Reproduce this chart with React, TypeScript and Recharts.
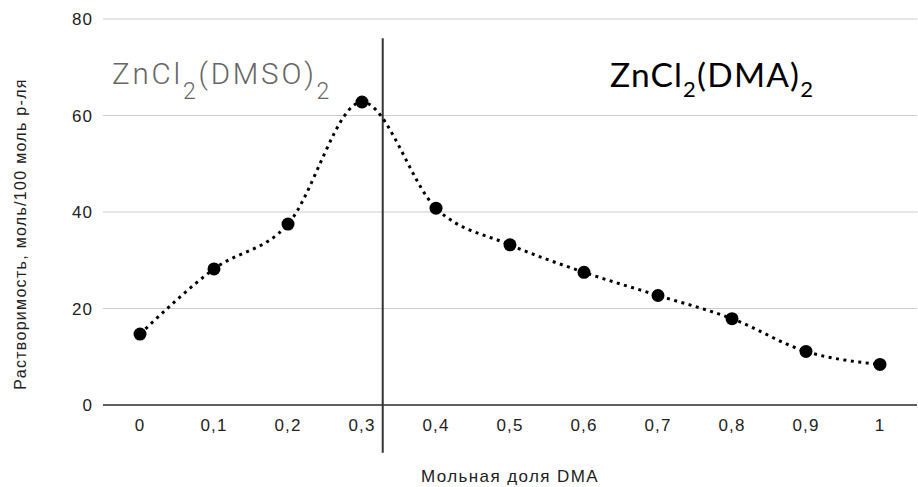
import React from 'react';
import { LineChart, Line, XAxis, YAxis, CartesianGrid, ReferenceLine, Label, Customized } from 'recharts';

const fractions = [0, 0.1, 0.2, 0.3, 0.4, 0.5, 0.6, 0.7, 0.8, 0.9, 1];
const solubility = [14.7, 28.2, 37.5, 62.8, 40.8, 33.2, 27.5, 22.7, 17.9, 11.1, 8.4];
const yTicks = [0, 20, 40, 60, 80];
const boundaryX = 0.328;

const data = fractions.map((f, i) => ({ x: f, y: solubility[i] }));

const fmt = (v: number) => String(v).replace('.', ',');

const FONT = 'Liberation Sans, Arial';

const Annotations = () => (
  <g>
    <text x={112} y={84} fontFamily="Roboto" fontWeight={300} fontSize={29.5} letterSpacing={2.8} fill="#666">
      ZnCl<tspan fontSize={23} dy={15}>2</tspan>
      <tspan fontSize={29.5} dy={-15}>(DMSO)</tspan>
      <tspan fontSize={23} dy={15}>2</tspan>
    </text>
    <text x={610} y={87} fontFamily="Lato" fontSize={33.5} letterSpacing={1.2} fill="#000">
      ZnCl<tspan fontSize={22} dy={10}>2</tspan>
      <tspan fontSize={33.5} dy={-10}>(DMA)</tspan>
      <tspan fontSize={22} dy={10}>2</tspan>
    </text>
  </g>
);

export default function App() {
  return (
    <div style={{ position: 'absolute', left: 0, top: 0, background: '#fff' }}>
      <LineChart width={918} height={487} data={data} margin={{ top: 19, right: 1, left: 0, bottom: 0 }}>
        <CartesianGrid vertical={false} stroke="#cccccc" strokeWidth={1} />
        <XAxis
          dataKey="x"
          type="number"
          domain={[-0.05, 1.05]}
          ticks={fractions}
          tickFormatter={fmt}
          tickLine={false}
          height={82}
          axisLine={{ stroke: '#333', strokeWidth: 1.5 }}
          tick={{ fill: '#222', fontSize: 17, fontFamily: FONT, letterSpacing: 1.2 }}
          tickMargin={8}
          interval={0}
        >
          <Label value="Мольная доля DMA" position="insideBottom" offset={5} style={{ fill: '#222', fontSize: 17, letterSpacing: 1.4, fontFamily: FONT }} />
        </XAxis>
        <YAxis
          type="number"
          domain={[0, 80]}
          ticks={yTicks}
          tickLine={false}
          axisLine={false}
          width={103}
          tickMargin={4}
          tick={{ fill: '#222', fontSize: 17, fontFamily: FONT, letterSpacing: 1.1 }}
        >
          <Label value="Растворимость, моль/100 моль р-ля" angle={-90} position="insideLeft" dx={15} dy={22} style={{ textAnchor: 'middle', fill: '#222', fontSize: 16, letterSpacing: 1.3, fontFamily: FONT }} />
        </YAxis>
        <ReferenceLine
          segment={[{ x: boundaryX, y: -9.9 }, { x: boundaryX, y: 76 }]}
          ifOverflow="visible"
          stroke="#333"
          strokeWidth={2}
        />
        <Line
          type="monotone"
          dataKey="y"
          stroke="#000"
          strokeWidth={3}
          strokeDasharray="3 4.5"
          dot={{ r: 6.5, fill: '#000', stroke: '#000', strokeWidth: 0, strokeDasharray: '' }}
          activeDot={false}
          isAnimationActive={false}
        />
        <Customized component={Annotations} />
      </LineChart>
    </div>
  );
}
